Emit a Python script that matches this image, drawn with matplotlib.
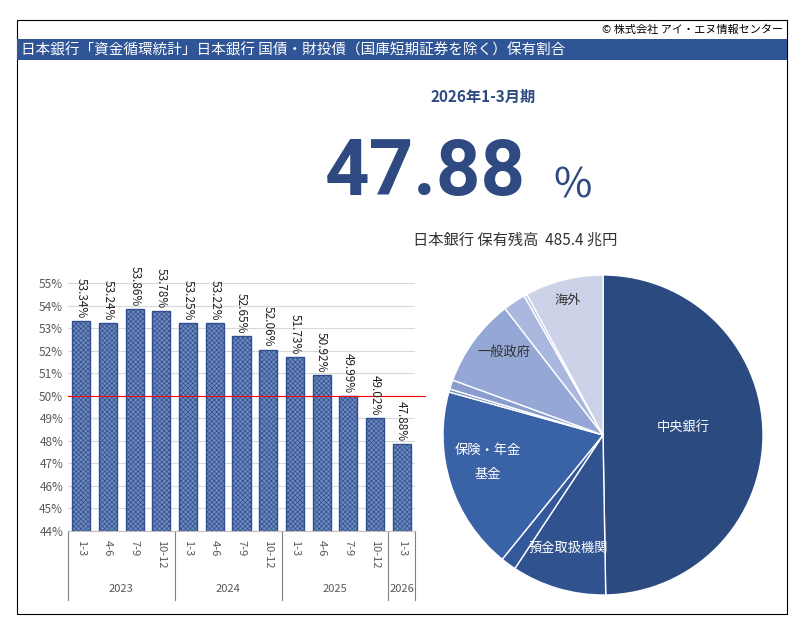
import matplotlib
matplotlib.use("Agg")
import matplotlib.pyplot as plt
from matplotlib.patches import Rectangle
import numpy as np

plt.rcParams['font.family'] = ['Noto Sans CJK JP', 'DejaVu Sans']
plt.rcParams['hatch.color'] = 'white'
plt.rcParams['hatch.linewidth'] = 0.5

quarters = ["1-3","4-6","7-9","10-12","1-3","4-6","7-9","10-12","1-3","4-6","7-9","10-12","1-3"]
years = ["2023","2024","2025","2026"]
year_counts = [4,4,4,1]
shares = [53.34,53.24,53.86,53.78,53.25,53.22,52.65,52.06,51.73,50.92,49.99,49.02,47.88]

pie_labels = ["中央銀行","預金取扱機関","","保険・年金\n\n基金","","","一般政府","","","海外"]
pie_values = [47.88,9.2,1.5,17.8,0.3,0.9,8.6,2.2,0.3,7.6]
pie_colors = ["#2B4B80","#30528F","#34599A","#3A62A7","#7F93C8","#8A9DCE","#95A7D5","#AAB7DE","#BCC6E4","#CCD3E9"]

W, H = 804, 635
fig = plt.figure(figsize=(W/100, H/100), dpi=100)
fig.patch.set_facecolor('white')

def fx(px): return px / W
def fy(py): return 1 - py / H

fig.add_artist(Rectangle((fx(17), fy(614)), fx(787-17), (614-20)/H, transform=fig.transFigure,
                         fill=False, edgecolor='black', lw=0.8))
fig.add_artist(Rectangle((fx(17), fy(60)), fx(787-17), (60-39)/H, transform=fig.transFigure,
                         facecolor='#2F5597', edgecolor='none'))
fig.text(fx(21), fy(50), "日本銀行「資金循環統計」日本銀行 国債・財投債（国庫短期証券を除く）保有割合",
         color='white', fontsize=10.5, va='center', ha='left')
fig.text(fx(783), fy(30), "© 株式会社 アイ・エヌ情報センター", fontsize=8, ha='right', va='center')
fig.text(fx(483), fy(97), "2026年1-3月期", fontsize=11, fontweight='bold', color='#2F4A80', ha='center', va='center')
fig.text(fx(425), fy(174), "47.88", fontsize=56, fontweight='bold', color='#2F4A80', ha='center', va='center',
         family=['Roboto', 'DejaVu Sans'])
fig.text(fx(573), fy(186), "%", fontsize=30, color='#2F4A80', ha='center', va='center')
fig.text(fx(515), fy(240), "日本銀行 保有残高  485.4 兆円", fontsize=11, color='#333333', ha='center', va='center')

ax = fig.add_axes([fx(68), fy(531), fx(415-68), (531-262)/H])
x = np.arange(len(shares))
ax.bar(x, [s-44 for s in shares], bottom=44, width=0.68, color='#6F89BE', edgecolor='#2F4F8F',
       hatch='xxxxxxx', lw=1.0)
ax.set_ylim(44, 55.95)
ax.set_xlim(-0.5, len(shares)-0.5)
ax.set_yticks(range(44, 56))
ax.set_yticklabels([f"{v}%" for v in range(44, 56)], fontsize=8.5, color='#595959')
ax.grid(axis='y', color='#D9D9D9', lw=0.8)
ax.set_axisbelow(True)
ax.axhline(50, color='red', lw=0.8, xmax=1.03, clip_on=False)
for s in ['top','right','left']:
    ax.spines[s].set_visible(False)
ax.spines['bottom'].set_color('#BFBFBF')
ax.tick_params(axis='y', length=0)
ax.tick_params(axis='x', length=0)
ax.set_xticks([])
for i, v in enumerate(shares):
    ax.text(i, v + 0.12, f"{v:.2f}%", rotation=-90, ha='center', va='bottom', fontsize=8.5, color='#222222',
            clip_on=False)
tr = ax.get_xaxis_transform()
for i, q in enumerate(quarters):
    ax.text(i, -0.035, q, rotation=-90, ha='center', va='top', fontsize=8, color='#595959', transform=tr)
pos = -0.5
bounds = [pos]
for yname, n in zip(years, year_counts):
    ax.text(pos + n/2, -0.215, yname, ha='center', va='center', fontsize=8, color='#595959', transform=tr)
    pos += n
    bounds.append(pos)
for b in bounds:
    ax.plot([b, b], [0, -0.255], color='#808080', lw=0.8, transform=tr, clip_on=False)

axp = fig.add_axes([fx(443), fy(595), fx(320), 320/H])
wedges, _ = axp.pie(pie_values, colors=pie_colors, startangle=90, counterclock=False,
                    wedgeprops=dict(edgecolor='white', linewidth=1.0))
axp.set_xlim(-1, 1); axp.set_ylim(-1, 1)
axp.set_aspect('equal')
label_pos = {0: (0.5, 0.05), 1: (-0.22, -0.71), 3: (-0.72, -0.17), 6: (-0.62, 0.52), 9: (-0.22, 0.84)}
for i, (lx, ly) in label_pos.items():
    axp.text(lx, ly, pie_labels[i], ha='center', va='center', fontsize=9.5,
             color='#333333' if i == 9 or i == 6 else 'white', linespacing=0.9)

fig.savefig("out.png", dpi=100)
